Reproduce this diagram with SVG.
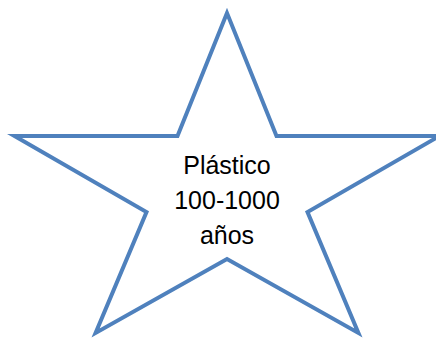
<svg xmlns="http://www.w3.org/2000/svg" width="436" height="341" viewBox="0 0 436 341">
<style>
.star{fill:#ffffff;stroke:#4f81bd;stroke-width:4;stroke-linejoin:miter;stroke-miterlimit:10}
.lbl{font-family:"Liberation Sans",Arial,sans-serif;font-size:25px;fill:#000;text-anchor:middle}
</style>
<rect width="436" height="341" fill="#ffffff"/>
<g id="star">
<polygon class="star" points="227,13 177.5,136 14.5,136 146.5,212 95.6,333 227,259 358.4,333 307.5,212 439.5,136 276.5,136"/>
<text class="lbl" x="227" y="174">Plástico</text>
<text class="lbl" x="227" y="209">100-1000</text>
<text class="lbl" x="227" y="244">años</text>
</g>
</svg>
